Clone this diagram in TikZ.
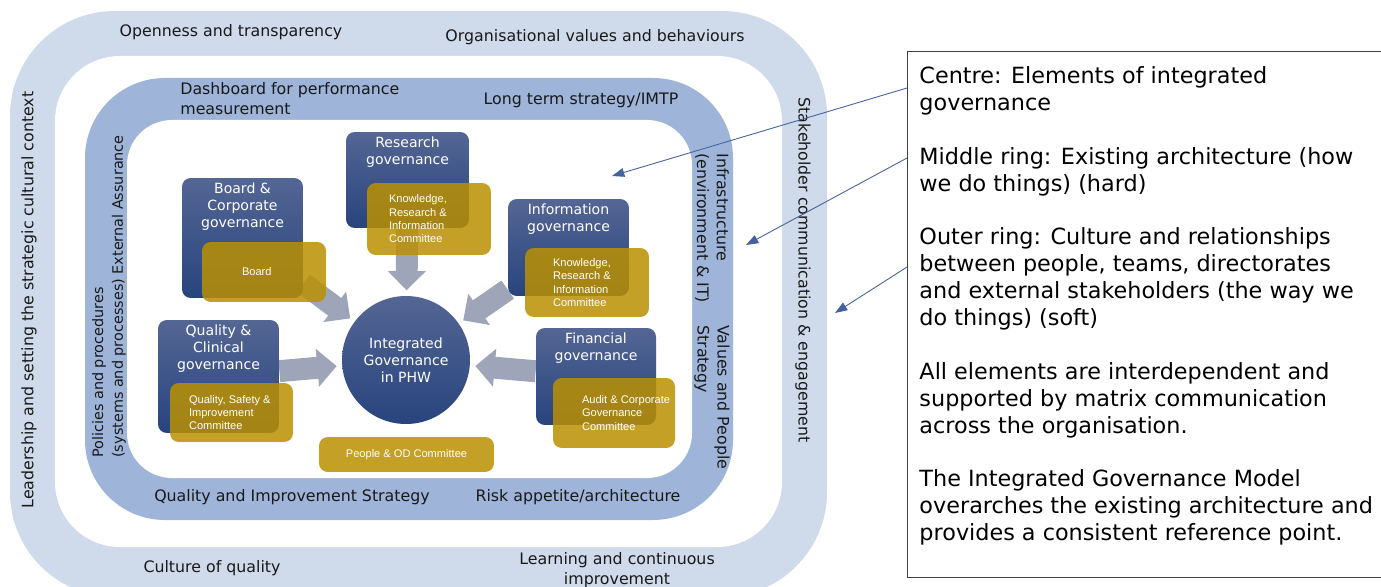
\documentclass[tikz,border=0pt]{standalone}
\usepackage{fontspec}
\setmainfont{DejaVu Sans}
\newfontfamily\arialfont{Liberation Sans}
\usepackage{xcolor}
\usepackage{tikz}
\usetikzlibrary{positioning}
\usetikzlibrary{arrows.meta}

\definecolor{ringlight}{RGB}{207,218,235}
\definecolor{ringmid}{RGB}{158,180,217}
\definecolor{govtop}{RGB}{84,102,148}
\definecolor{govbottom}{RGB}{40,68,126}
\definecolor{ctgold}{RGB}{186,144,2}
\definecolor{flowgray}{RGB}{158,165,184}
\definecolor{noteblue}{RGB}{68,98,160}

\pgfdeclarelayer{rings}
\pgfsetlayers{rings,main}

\tikzset{
  ringtext/.style={inner sep=0pt, text=black!90, font=\fontsize{9}{11.3}\selectfont},
  govbox/.style={rounded corners=5pt, top color=govtop, bottom color=govbottom},
  govtitle/.style={inner sep=2pt, align=center, text=white, font=\fontsize{8}{9.6}\selectfont},
  ctbox/.style={rounded corners=5pt, fill=ctgold, fill opacity=0.85, text opacity=1},
  cttext/.style={inner sep=0pt, align=left, text=white, font=\arialfont\fontsize{6.3}{7.6}\selectfont},
  flow/.style={line width=12.5pt, draw=flowgray, -{Triangle[length=11pt,width=21pt]}, shorten >=3pt},
  note/.style={draw=noteblue, line width=0.5pt, -{Triangle[length=7pt,width=5pt]}},
  notebox/.style={draw=black!75, line width=0.6pt, align=left, inner xsep=6.8pt, minimum height=10.52cm, font=\fontsize{12.7}{15.3}\selectfont}
}

\begin{document}
\begin{tikzpicture}[x=0.02cm, y=-0.02cm]
    \useasboundingbox (0,0) rectangle (1381,587);
    \begin{pgfonlayer}{rings}
    \fill[ringlight, rounded corners=2.1cm] (10,11) rectangle (827,597);
    \fill[white, rounded corners=1.3cm] (55,56) rectangle (782,547);
    \fill[ringmid, rounded corners=1.6cm] (85,78) rectangle (733,520);
    \fill[white, rounded corners=0.9cm] (127,120) rectangle (692,478);
    \end{pgfonlayer}

    \node[ringtext] (open) at (231,32) {Openness and transparency};
    \node[ringtext] (values) at (595,37) {Organisational values and behaviours};
    \node[ringtext, rotate=90] (lead) at (29,300) {Leadership and setting the strategic cultural context};
    \node[ringtext, rotate=-90] (stake) at (803,270) {Stakeholder communication \& engagement};
    \node[ringtext] (cultq) at (212,568) {Culture of quality};
    \node[ringtext, align=center] (learn) at (617,570) {Learning and continuous\\improvement};

    \node[ringtext, align=left, anchor=west] (dash) at (180,99) {Dashboard for performance\\measurement};
    \node[ringtext] (imtp) at (581,100) {Long term strategy/IMTP};
    \node[ringtext, rotate=90, anchor=west, align=left, font=\fontsize{8.2}{11.3}\selectfont] (policy) at (109,458) {Policies and procedures\\(systems and processes) External Assurance};
    \node[ringtext, rotate=-90, anchor=west, align=left] (infra) at (712,153) {Infrastructure\\(environment \& IT)};
    \node[ringtext, rotate=-90, anchor=west, align=left] (people) at (712,325) {Values and People\\Strategy};
    \node[ringtext] (qis) at (292,497) {Quality and Improvement Strategy};
    \node[ringtext] (risk) at (578,497) {Risk appetite/architecture};

    \node[circle, minimum size=2.56cm, top color=govtop, bottom color=govbottom] (igc) at (406,360) {};
    \node[govtitle] at (igc) {Integrated\\Governance\\in PHW};

    \node[govbox, minimum width=2.46cm, minimum height=1.92cm] (research) at (407.5,180) {};
    \node[govtitle, below=1pt of research.north] (researcht) {Research\\governance};
    \node[ctbox, minimum width=2.48cm, minimum height=1.44cm] (rgold) at (429,219) {};
    \node[cttext, right=0.44cm of rgold.west] (rgoldt) {Knowledge,\\Research \&\\Information\\Committee};

    \node[govbox, minimum width=2.42cm, minimum height=2.4cm] (board) at (242.5,238) {};
    \node[govtitle, below=1pt of board.north] (boardt) {Board \&\\Corporate\\governance};
    \node[ctbox, minimum width=2.48cm, minimum height=1.2cm] (bgold) at (264,272) {};
    \node[cttext, right=0.8cm of bgold.west] (bgoldt) {Board};

    \node[govbox, minimum width=2.42cm, minimum height=1.94cm] (info) at (568.5,247.5) {};
    \node[govtitle, below=1pt of info.north] (infot) {Information\\governance};
    \node[ctbox, minimum width=2.48cm, minimum height=1.38cm] (igold) at (587,282.5) {};
    \node[cttext, right=0.56cm of igold.west] (igoldt) {Knowledge,\\Research \&\\Information\\Committee};

    \node[govbox, minimum width=2.42cm, minimum height=2.26cm] (quality) at (218.5,376.5) {};
    \node[govtitle, below=1pt of quality.north] (qualityt) {Quality \&\\Clinical\\governance};
    \node[ctbox, minimum width=2.46cm, minimum height=1.18cm] (qgold) at (231.5,412.5) {};
    \node[cttext, right=0.38cm of qgold.west] (qgoldt) {Quality, Safety \&\\Improvement\\Committee};

    \node[govbox, minimum width=2.4cm, minimum height=1.94cm] (finance) at (596,376.5) {};
    \node[govtitle, below=1pt of finance.north] (financet) {Financial\\governance};
    \node[ctbox, minimum width=2.44cm, minimum height=1.4cm] (fgold) at (614,413) {};
    \node[cttext, right=0.58cm of fgold.west] (fgoldt) {Audit \& Corporate\\Governance\\Committee};

    \node[ctbox, minimum width=3.5cm, minimum height=0.7cm, cttext] (pgold) at (406.5,454.5) {People \& OD Committee};

    \begin{pgfonlayer}{rings}
    \draw[flow] (board) -- (igc);
    \draw[flow] (research) -- (igc);
    \draw[flow] (info) -- (igc);
    \draw[flow] (quality) -- (igc);
    \draw[flow] (finance) -- (igc);
    \end{pgfonlayer}

    \node[notebox, anchor=north west] (notes) at (907,51) {Centre: Elements of integrated\\governance\\[15.3pt]
      Middle ring: Existing architecture (how\\we do things) (hard)\\[15.3pt]
      Outer ring: Culture and relationships\\between people, teams, directorates\\and external stakeholders (the way we\\do things) (soft)\\[15.3pt]
      All elements are interdependent and\\supported by matrix communication\\across the organisation.\\[15.3pt]
      The Integrated Governance Model\\overarches the existing architecture and\\provides a consistent reference point.\\[-3pt]\mbox{}};

    \coordinate (ctip) at (612,176);
    \coordinate (mtip) at (746,245);
    \coordinate (otip) at (835,313);
    \draw[note] (notes.north west) ++(0,37) -- (ctip);
    \draw[note] (notes.north west) ++(0,107) -- (mtip);
    \draw[note] (notes.north west) ++(0,216) -- (otip);
  \end{tikzpicture}
\end{document}
